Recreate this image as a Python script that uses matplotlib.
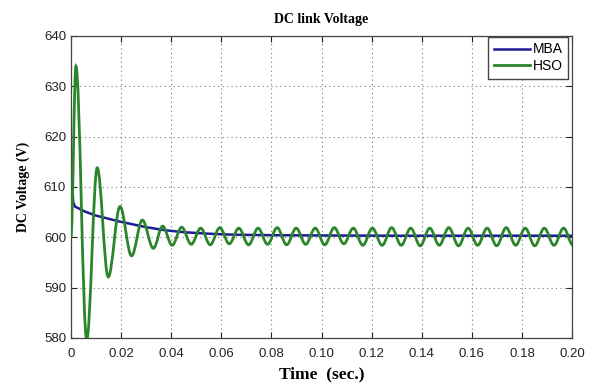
import matplotlib.pyplot as plt
from matplotlib.path import Path
from matplotlib.patches import PathPatch
from matplotlib.lines import Line2D

# MBA response (time in s, voltage in V)
mba_t = [0, 0.0003, 0.0009, 0.0016, 0.0056, 0.010, 0.0196, 0.030, 0.0375,
         0.045, 0.055, 0.065, 0.08, 0.10, 0.13, 0.16, 0.20]
mba_v = [606.0, 612.8, 607.0, 606.1, 605.1, 604.3, 603.1, 602.0, 601.4,
         601.0, 600.7, 600.5, 600.4, 600.35, 600.3, 600.3, 600.3]

# HSO response: turning points (peaks and troughs) of the oscillation
hso_t = [0, 0.0020, 0.0063, 0.0105, 0.0149, 0.0196, 0.0242, 0.0285, 0.0329,
         0.0366, 0.0404, 0.0442, 0.0480, 0.0518, 0.0556, 0.0594, 0.0632,
         0.0670, 0.0709, 0.0747, 0.0785, 0.0823, 0.0861, 0.0899, 0.0937,
         0.0975, 0.1013, 0.1051, 0.1089, 0.1127, 0.1165, 0.1203, 0.1242,
         0.1280, 0.1318, 0.1356, 0.1394, 0.1432, 0.1470, 0.1508, 0.1547,
         0.1585, 0.1623, 0.1661, 0.1699, 0.1737, 0.1775, 0.1813, 0.1851,
         0.1889, 0.1928, 0.1966, 0.2004]
hso_v = [600.0, 634.0, 579.6, 613.8, 592.1, 606.1, 596.3, 603.4, 597.8,
         602.2, 598.4, 602.0, 598.6, 601.8, 598.5, 601.9, 598.7,
         601.8, 598.5, 601.8, 598.6, 601.9, 598.5, 601.8, 598.6,
         601.8, 598.5, 601.9, 598.7, 601.8, 598.4, 601.8, 598.4,
         601.9, 598.4, 601.8, 598.3, 601.8, 598.4, 601.9, 598.3,
         601.8, 598.4, 601.8, 598.3, 601.9, 598.4, 601.8, 598.3,
         601.8, 598.4, 601.8, 598.4]

x_ticks = [0, 0.02, 0.04, 0.06, 0.08, 0.10, 0.12, 0.14, 0.16, 0.18, 0.20]
x_labels = ['0', '0.02', '0.04', '0.06', '0.08', '0.10', '0.12', '0.14',
            '0.16', '0.18', '0.20']
y_ticks = [580, 590, 600, 610, 620, 630, 640]

mba_color = '#1c1c94'
hso_color = '#2b862b'

plt.rcParams['font.family'] = ['Liberation Sans', 'DejaVu Sans']

fig = plt.figure(figsize=(5.91, 3.87), dpi=100)
ax = fig.add_axes([0.120, 0.127, 0.848, 0.780])

ax.plot(mba_t, mba_v, color=mba_color, lw=1.8, zorder=2)

# smooth curve through the turning points (flat tangent at each one)
verts = [(hso_t[0], hso_v[0])]
codes = [Path.MOVETO]
for i in range(1, len(hso_t)):
    t0, v0 = hso_t[i - 1], hso_v[i - 1]
    t1, v1 = hso_t[i], hso_v[i]
    dt = t1 - t0
    verts += [(t0 + 0.36 * dt, v0), (t1 - 0.36 * dt, v1), (t1, v1)]
    codes += [Path.CURVE4] * 3
ax.add_patch(PathPatch(Path(verts, codes), fill=False, edgecolor=hso_color,
                       lw=2.0, zorder=3))

ax.set_xlim(0, 0.2)
ax.set_ylim(580, 640)
ax.set_xticks(x_ticks)
ax.set_xticklabels(x_labels)
ax.set_yticks(y_ticks)
ax.tick_params(direction='in', top=True, right=True, length=4, labelsize=9.5,
               colors='#222222')
ax.tick_params(axis='x', pad=7)
ax.grid(True, color='#777777', linestyle=(0, (1, 3)), lw=0.8)
for s in ax.spines.values():
    s.set_color('#444444')
    s.set_linewidth(0.9)

ax.set_title('DC link Voltage', family='Liberation Serif', fontsize=10,
             fontweight='bold', pad=9)
ax.set_xlabel('Time  (sec.)', family='Liberation Serif', fontsize=12.5,
              fontweight='bold', labelpad=5)
ax.set_ylabel('DC Voltage (V)', family='Liberation Serif', fontsize=10,
              fontweight='bold', labelpad=10)

handles = [Line2D([], [], color=mba_color, lw=1.8),
           Line2D([], [], color=hso_color, lw=2.0)]
ax.legend(handles, ['MBA', 'HSO'], loc='upper right',
          bbox_to_anchor=(0.992, 0.997), borderaxespad=0, fontsize=10,
          handlelength=2.6, handletextpad=0.2, borderpad=0.4,
          labelspacing=0.2, fancybox=False, framealpha=1,
          edgecolor='#444444')

plt.savefig('out.png', dpi=100)
